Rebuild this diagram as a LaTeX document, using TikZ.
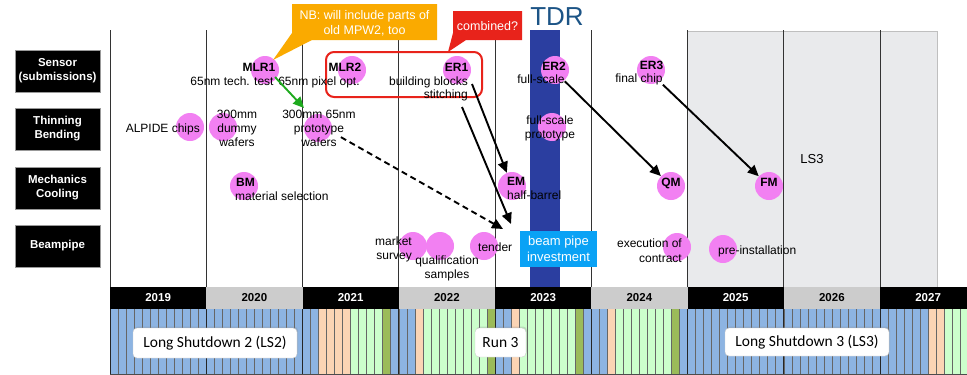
\documentclass[tikz,border=0pt]{standalone}
\usepackage{fontspec}
\setmainfont{Liberation Sans}
\newfontfamily\calibri{Carlito}
\usetikzlibrary{arrows.meta,shadows}

\definecolor{mspink}{RGB}{242,128,242}
\definecolor{lsgray}{RGB}{233,234,236}
\definecolor{tdrblue}{RGB}{43,62,160}
\definecolor{tdrtext}{RGB}{28,84,134}
\definecolor{bpcyan}{RGB}{10,162,245}
\definecolor{nborange}{RGB}{250,170,0}
\definecolor{cbred}{RGB}{232,35,27}
\definecolor{yrgray}{RGB}{204,204,204}
\definecolor{mblue}{RGB}{141,180,226}
\definecolor{morange}{RGB}{251,212,180}
\definecolor{mgreen}{RGB}{204,255,204}
\definecolor{molive}{RGB}{155,187,89}
\definecolor{okgreen}{RGB}{30,170,30}

\tikzset{
  rowlabel/.style={draw=black!40, fill=black, text=white, font=\fontsize{11.5}{14}\selectfont\bfseries, minimum width=85, minimum height=42, align=center, inner sep=0},
  ms/.style={circle, fill=mspink, minimum size=28, inner sep=0},
  txt/.style={font=\fontsize{12}{14}\selectfont, inner sep=0, anchor=base},
  nm/.style={txt, font=\fontsize{12}{14}\selectfont\bfseries},
  arr/.style={line width=1.9, -{Triangle[length=11,width=10]}},
  phase/.style={draw=black!20, fill=white, rounded corners=4, font=\calibri\fontsize{15.5}{18}\selectfont, inner sep=0, drop shadow={shadow xshift=1, shadow yshift=-1.5, opacity=0.25}},
  yearbox/.style={minimum width=96.25, minimum height=22, inner sep=0, font=\fontsize{11.5}{13}\selectfont\bfseries},
  gridline/.style={black!80, line width=0.9},
  monthline/.style={black!60, line width=0.5},
}
\def\mw{8.0208}

\begin{document}
\begin{tikzpicture}[x=1pt,y=-1pt]
  \useasboundingbox (0,0) rectangle (967,375);
  \fill[white] (0,0) rectangle (967,375);

  % rows
  \node[rowlabel] (rsensor) at (57.5,71) {Sensor\\(submissions)};
  \node[rowlabel] (rthin) at (57.5,129) {Thinning\\Bending};
  \node[rowlabel] (rmech) at (57.5,188) {Mechanics\\Cooling};
  \node[rowlabel] (rbeam) at (57.5,246) {Beampipe};

  % LS3 area and year grid
  \filldraw[fill=lsgray, draw=black!25] (687.5,31) rectangle (937,287);
  \foreach \i in {0,...,8}
    \draw[gridline] ({110+96.25*\i},30) -- ({110+96.25*\i},287);
  \fill[tdrblue] (530,30) rectangle (560,287);
  \node[inner sep=0, anchor=base, text=tdrtext, font=\fontsize{26}{30}\selectfont] (tdr) at (557,25) {TDR};
  \node[txt, font=\fontsize{13}{15}\selectfont] (ls3) at (812,163) {LS3};

  % years
  \foreach \i/\yr/\bg/\fg in {0/2019/black/white, 1/2020/yrgray/black, 2/2021/black/white,
      3/2022/yrgray/black, 4/2023/black/white, 5/2024/yrgray/black, 6/2025/black/white,
      7/2026/yrgray/black, 8/2027/black/white}
    \node[yearbox, fill=\bg, text=\fg] (y\yr) at ({110+96.25*(\i+0.5)},298) {\yr};

  % months
  \foreach \a/\b/\c in {0/26/mblue, 26/30/morange, 30/34/mgreen, 34/35/molive, 35/38/mblue,
      38/39/morange, 39/47/mgreen, 47/48/molive, 48/50/mblue, 50/51/morange, 51/58/mgreen,
      58/59/molive, 59/62/mblue, 62/63/morange, 63/70/mgreen, 70/71/molive, 71/102/mblue,
      102/104/morange, 104/108/mgreen}
    \fill[\c] ({110+\a*\mw},309) rectangle ({110+\b*\mw},374);
  \foreach \m in {1,...,107}
    \draw[monthline] ({110+\m*\mw},309) -- ({110+\m*\mw},374);
  \foreach \i in {0,...,8}
    \draw[black!85, line width=0.9] ({110+96.25*\i},309) -- ({110+96.25*\i},374);
  \draw[black!70, line width=0.8] (110,374) -- (967,374);

  \node[phase, minimum width=164, minimum height=30] (ls2box) at (215,343) {Long Shutdown 2 (LS2)};
  \node[phase, minimum width=51, minimum height=29] (runbox) at (500.5,342.5) {Run 3};
  \node[phase, minimum width=164, minimum height=28] (ls3box) at (807,342) {Long Shutdown 3 (LS3)};

  % milestones
  \node[ms] (mlr1) at (265,70) {};
  \node[ms] (mlr2) at (352,70) {};
  \node[ms] (er1) at (457,70) {};
  \node[ms] (er2) at (555,70) {};
  \node[ms] (er3) at (651,70) {};
  \node[ms] (alpide) at (190,127) {};
  \node[ms] (dummy) at (223,127) {};
  \node[ms] (proto) at (318,128) {};
  \node[ms] (fsproto) at (552,127) {};
  \node[ms] (bm) at (244,186) {};
  \node[ms] (em) at (512,186) {};
  \node[ms] (qm) at (671,186) {};
  \node[ms] (fm) at (769,186) {};
  \node[ms] (market) at (413,246) {};
  \node[ms] (qualif) at (440,246) {};
  \node[ms] (tender) at (484,246) {};
  \node[ms] (exec) at (677,247) {};
  \node[ms] (preinst) at (723,249) {};

  \draw[cbred, line width=2, rounded corners=8] (326,52) rectangle (482,97);

  % labels
  \node[nm] (tmlr1) at (259,71) {MLR1};
  \node[txt] (tt1) at (232,85) {65nm tech. test};
  \node[nm] (tmlr2) at (345,71) {MLR2};
  \node[txt] (tt2) at (319,85) {65nm pixel opt.};
  \node[nm] (ter1) at (456.5,71) {ER1};
  \node[txt, anchor=base east] (bb) at (468,85) {building blocks};
  \node[txt, anchor=base east] (st) at (468,98) {stitching};
  \node[nm] (ter2) at (554,70) {ER2};
  \node[txt] (fs) at (541,83) {full-scale};
  \node[nm] (ter3) at (651.5,69) {ER3};
  \node[txt] (fc) at (639,82) {final chip};

  \node[txt, anchor=base east] (talp) at (200,132) {ALPIDE chips};
  \node[txt] (dw1) at (237,118) {300mm};
  \node[txt] (dw2) at (237,132) {dummy};
  \node[txt] (dw3) at (237,146) {wafers};
  \node[txt] (pw1) at (319,118) {300mm 65nm};
  \node[txt] (pw2) at (319,132) {prototype};
  \node[txt] (pw3) at (319,146) {wafers};
  \node[txt] (fp1) at (550,124) {full-scale};
  \node[txt] (fp2) at (550,138) {prototype};

  \node[nm] (tbm) at (245.5,186) {BM};
  \node[txt, anchor=base west] (tmat) at (235,200) {material selection};
  \node[nm] (tem) at (516,185) {EM};
  \node[txt, anchor=base west] (thb) at (507,199) {half-barrel};
  \node[nm] (tqm) at (671,186) {QM};
  \node[nm] (tfm) at (769,186) {FM};

  \node[txt, anchor=base east] (ms1) at (412,245) {market};
  \node[txt, anchor=base east] (ms2) at (412,259) {survey};
  \node[txt] (qs1) at (447,264) {qualification};
  \node[txt] (qs2) at (447,278) {samples};
  \node[txt, anchor=base west] (tten) at (478,251) {tender};
  \node[txt, anchor=base east] (ec1) at (682,247) {execution of};
  \node[txt, anchor=base east] (ec2) at (682,262) {contract};
  \node[txt, anchor=base west] (tpre) at (718,254) {pre-installation};

  \node[fill=bpcyan, text=white, minimum width=77, minimum height=36, inner sep=0, align=center, font=\fontsize{13}{16}\selectfont] (bpinv) at (558.5,249) {beam pipe\\investment};

  % connectors
  \coordinate (wtip) at (304,108);
  \coordinate (erA) at (472,84);
  \coordinate (erB) at (462,107);
  \coordinate (bptip) at (511,224);
  \coordinate (tentip) at (503,229);
  \draw[arr, okgreen] ([yshift=3]mlr1.south east) -- (wtip);
  \draw[arr, dashed, dash pattern=on 6 off 4] ([xshift=4]pw3.north east) -- (tentip);
  \draw[arr] (erA) -- (em);
  \draw[arr] (erB) -- (bptip);
  \draw[arr] ([yshift=2]fs.south east) -- (qm);
  \draw[arr] (fc.south east) -- (fm);

  % callouts
  \fill[nborange] (292,4) -- (437,4) -- (437,40) -- (312,40) -- (273,60) -- (292,33) -- cycle;
  \node[txt, text=white, font=\fontsize{12.5}{15}\selectfont] (nb1) at (364.5,19) {NB: will include parts of};
  \node[txt, text=white, font=\fontsize{12.5}{15}\selectfont] (nb2) at (364.5,34) {old MPW2, too};
  \fill[cbred] (453,11) -- (522,11) -- (522,40) -- (466,40) -- (448,52) -- (453,33) -- cycle;
  \node[txt, text=white, font=\fontsize{12.5}{15}\selectfont] (cb) at (487.5,30) {combined?};
\end{tikzpicture}
\end{document}
